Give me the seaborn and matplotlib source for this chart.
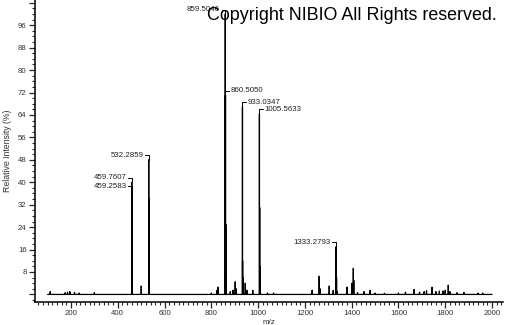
import numpy as np
import pandas as pd
import matplotlib
matplotlib.use("Agg")
import matplotlib.pyplot as plt
import seaborn as sns
from matplotlib.ticker import MultipleLocator, FixedLocator, FuncFormatter

# ---------------- data ----------------
peak_mz = [111, 175, 185, 195, 215, 235, 300,
           459.2583, 459.7607, 460.26, 460.76,
           500.3, 532.2859, 533.29, 534.29,
           800, 824, 829, 859.5046, 860.5050, 861.51, 862.51,
           881, 893, 902, 906, 933.0347, 933.53, 934.03,
           945, 952, 977, 1005.5633, 1006.56, 1007.56, 1040, 1066,
           1231, 1261, 1265, 1304, 1321, 1333.2793, 1334.28, 1335.28, 1338,
           1380, 1401, 1407, 1409, 1425, 1453, 1479, 1500, 1540, 1600,
           1630, 1667, 1690, 1710, 1720, 1744, 1760, 1775, 1790, 1800,
           1813, 1820, 1850, 1880, 1940, 1960]
peak_int = [1.0, 0.6, 0.8, 1.0, 0.7, 0.5, 0.6,
            37, 40, 25, 8,
            3.0, 48, 34, 12,
            0.5, 1.5, 2.6, 100, 71, 25, 8,
            1.0, 1.5, 4.5, 2.0, 67, 12, 6,
            4.0, 1.5, 1.5, 64.5, 31, 10, 0.5, 0.5,
            1.5, 6.5, 2.0, 3.0, 1.4, 17, 13, 6, 1.0,
            2.6, 4.0, 9.3, 5.0, 0.6, 1.0, 1.5, 0.5, 0.4, 0.5,
            0.8, 1.8, 0.8, 1.0, 1.3, 2.6, 1.0, 1.2, 1.2, 1.5,
            3.3, 1.0, 0.6, 0.7, 0.5, 0.5]
spectrum_range = [100, 2000]

label_mz = [459.7607, 459.2583, 532.2859, 859.5046, 860.5050,
            933.0347, 1005.5633, 1333.2793]
label_text = ["459.7607", "459.2583", "532.2859", "859.5046", "860.5050",
              "933.0347", "1005.5633", "1333.2793"]
label_side = ["L", "L", "L", "L", "R", "R", "R", "L"]

y_ticks = list(range(0, 105, 8))
x_ticks = list(range(200, 2001, 200))

# ---------------- build profile ----------------
order = np.argsort(peak_mz)
xs, ys = [spectrum_range[0]], [0.0]
hw = 0.2
for i in order:
    m, h = peak_mz[i], peak_int[i]
    xs += [m - hw, m, m + hw]
    ys += [0.0, h, 0.0]
xs.append(spectrum_range[1]); ys.append(0.0)
df = pd.DataFrame({"mz": xs, "intensity": ys})

# ---------------- plot ----------------
sns.set_style("ticks")
plt.rcParams["font.family"] = ["Liberation Sans", "DejaVu Sans"]

fig = plt.figure(figsize=(5.05, 3.25), dpi=100)
ax = fig.add_axes([35 / 505, 23 / 325, (503 - 35) / 505, 302 / 325])

sns.lineplot(data=df, x="mz", y="intensity", sort=False, estimator=None,
             color="black", lw=0.9, ax=ax)

ax.set_xlim(46, 2047)
ax.set_ylim(-2.7, 105)

for s in ["top", "right"]:
    ax.spines[s].set_visible(False)
for s in ["left", "bottom"]:
    ax.spines[s].set_linewidth(1.1)
    ax.spines[s].set_color("black")

ax.xaxis.set_major_locator(FixedLocator(x_ticks))
ax.xaxis.set_minor_locator(MultipleLocator(20))
ax.yaxis.set_major_locator(FixedLocator(y_ticks))
ax.yaxis.set_minor_locator(MultipleLocator(2))
ax.yaxis.set_major_formatter(FuncFormatter(lambda v, p: "" if v in (0, 104) else f"{int(v)}"))
ax.tick_params(which="major", direction="out", length=4, width=0.9,
               labelsize=5.6, labelcolor="#333333", pad=2)
ax.tick_params(which="minor", direction="out", length=2.2, width=0.8)

ax.set_xlabel("m/z", fontsize=5.8, color="#333333", labelpad=1)
ax.set_ylabel("Relative Intensity (%)", fontsize=6.3, color="#333333", labelpad=4)

# peak labels with brackets
lookup = dict(zip(peak_mz, peak_int))
dy, dx, gap = 1.6, 16, 6
for m, t, side in zip(label_mz, label_text, label_side):
    h = lookup[m]
    lvl = h + dy
    if side == "L":
        ax.plot([m, m, m - dx], [h, lvl, lvl], color="black", lw=0.7)
        ax.text(m - dx - gap, lvl, t, ha="right", va="center",
                fontsize=5.7, color="#222222")
    else:
        ax.plot([m, m, m + dx], [h, lvl, lvl], color="black", lw=0.7)
        ax.text(m + dx + gap, lvl, t, ha="left", va="center",
                fontsize=5.7, color="#222222")

fig.text(207 / 505, 1 - 20 / 325, "Copyright NIBIO All Rights reserved.",
         fontsize=12.9, color="black", ha="left", va="baseline", zorder=10)

fig.savefig("out.png", dpi=100, facecolor="white")
